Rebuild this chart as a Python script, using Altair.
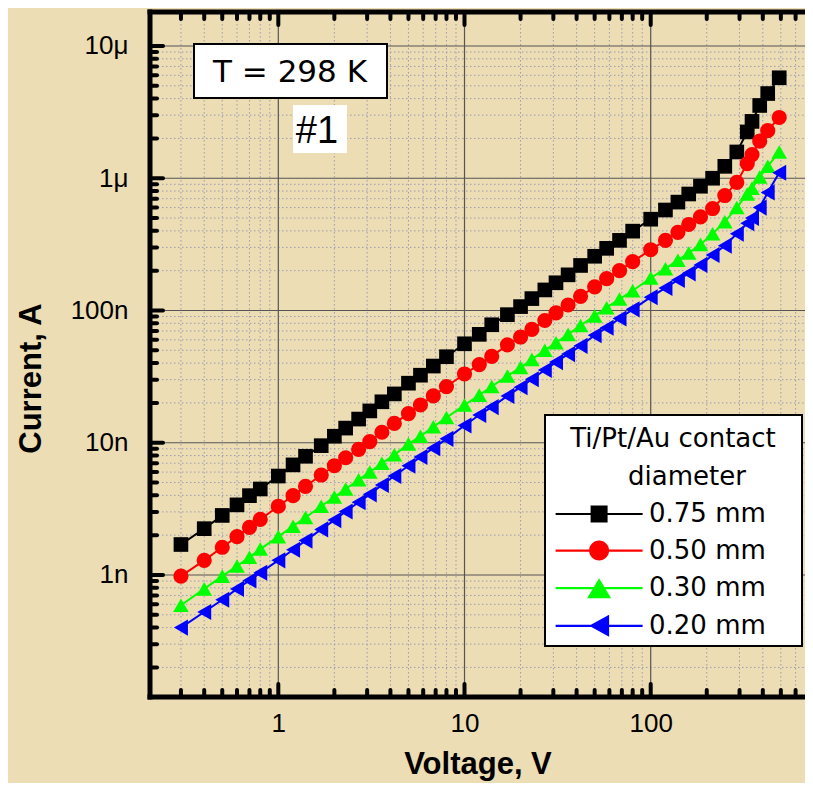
import altair as alt
import pandas as pd

# ---------------- data ----------------
series_names = ["0.75 mm", "0.50 mm", "0.30 mm", "0.20 mm"]
series_colors = ["#000000", "#ff0000", "#00ff00", "#0000ff"]
series_shapes = ["square", "circle", "triangle-up", "triangle-left"]
series_sizes = [215, 260, 390, 370]

voltage = [0.3, 0.4, 0.5, 0.6, 0.7, 0.8, 1.0, 1.2, 1.4, 1.7, 2.0, 2.3, 2.7, 3.1, 3.6,
           4.2, 5.0, 5.8, 6.8, 8.0, 10, 12, 14, 17, 20, 23, 27, 31, 36, 42, 50, 58, 68,
           80, 100, 120, 140, 160, 185, 215, 250, 290, 330, 350, 385, 425, 490]

current_075 = [1.70e-9, 2.24e-9, 2.82e-9, 3.39e-9, 3.98e-9, 4.47e-9, 5.6e-9, 6.8e-9, 7.9e-9,
               9.5e-9, 1.12e-8, 1.29e-8, 1.51e-8, 1.74e-8, 2.04e-8, 2.34e-8, 2.82e-8, 3.24e-8,
               3.80e-8, 4.47e-8, 5.6e-8, 6.6e-8, 7.8e-8, 9.3e-8, 1.07e-7, 1.23e-7, 1.43e-7,
               1.62e-7, 1.86e-7, 2.19e-7, 2.57e-7, 2.95e-7, 3.39e-7, 3.98e-7, 4.9e-7, 5.75e-7,
               6.6e-7, 7.6e-7, 8.7e-7, 1.0e-6, 1.23e-6, 1.58e-6, 2.24e-6, 2.69e-6, 3.55e-6,
               4.37e-6, 5.75e-6]
current_050 = [0.98e-9, 1.29e-9, 1.62e-9, 1.95e-9, 2.29e-9, 2.63e-9, 3.31e-9, 3.98e-9, 4.68e-9,
               5.7e-9, 6.7e-9, 7.7e-9, 8.9e-9, 1.02e-8, 1.20e-8, 1.40e-8, 1.66e-8, 1.93e-8,
               2.26e-8, 2.66e-8, 3.31e-8, 3.9e-8, 4.5e-8, 5.5e-8, 6.3e-8, 7.2e-8, 8.4e-8,
               9.6e-8, 1.10e-7, 1.28e-7, 1.51e-7, 1.74e-7, 2.0e-7, 2.34e-7, 2.88e-7, 3.39e-7,
               3.9e-7, 4.47e-7, 5.1e-7, 5.9e-7, 7.4e-7, 9.3e-7, 1.29e-6, 1.51e-6, 1.91e-6,
               2.29e-6, 2.88e-6]
current_030 = [5.9e-10, 7.85e-10, 9.8e-10, 1.17e-9, 1.36e-9, 1.57e-9, 1.95e-9, 2.34e-9, 2.72e-9,
               3.31e-9, 3.89e-9, 4.47e-9, 5.25e-9, 6.0e-9, 7.0e-9, 8.1e-9, 9.8e-9, 1.12e-8,
               1.32e-8, 1.55e-8, 1.93e-8, 2.29e-8, 2.66e-8, 3.2e-8, 3.7e-8, 4.27e-8, 5.0e-8,
               5.7e-8, 6.6e-8, 7.7e-8, 9.1e-8, 1.05e-7, 1.22e-7, 1.41e-7, 1.76e-7, 2.07e-7,
               2.4e-7, 2.72e-7, 3.16e-7, 3.8e-7, 4.68e-7, 6.0e-7, 7.6e-7, 8.4e-7, 1.02e-6,
               1.23e-6, 1.58e-6]
current_020 = [4.0e-10, 5.25e-10, 6.5e-10, 7.85e-10, 9.1e-10, 1.04e-9, 1.29e-9, 1.55e-9, 1.82e-9,
               2.21e-9, 2.6e-9, 3.02e-9, 3.55e-9, 4.07e-9, 4.79e-9, 5.6e-9, 6.7e-9, 7.8e-9,
               9.1e-9, 1.07e-8, 1.35e-8, 1.62e-8, 1.86e-8, 2.26e-8, 2.63e-8, 3.02e-8, 3.55e-8,
               4.07e-8, 4.68e-8, 5.4e-8, 6.5e-8, 7.4e-8, 8.7e-8, 1.02e-7, 1.26e-7, 1.48e-7,
               1.70e-7, 1.91e-7, 2.21e-7, 2.63e-7, 3.09e-7, 3.8e-7, 4.57e-7, 5.0e-7, 6.0e-7,
               7.8e-7, 1.1e-6]

x_major = [1, 10, 100]
x_major_labels = ["1", "10", "100"]
x_minor = [0.3, 0.4, 0.5, 0.6, 0.7, 0.8, 0.9,
           2, 3, 4, 5, 6, 7, 8, 9,
           20, 30, 40, 50, 60, 70, 80, 90,
           200, 300, 400, 500, 600]
y_major = [1e-9, 1e-8, 1e-7, 1e-6, 1e-5]
y_major_labels = ["1n", "10n", "100n", "1μ", "10μ"]
y_minor = [2e-10, 3e-10, 4e-10, 5e-10, 6e-10, 7e-10, 8e-10, 9e-10,
           2e-9, 3e-9, 4e-9, 5e-9, 6e-9, 7e-9, 8e-9, 9e-9,
           2e-8, 3e-8, 4e-8, 5e-8, 6e-8, 7e-8, 8e-8, 9e-8,
           2e-7, 3e-7, 4e-7, 5e-7, 6e-7, 7e-7, 8e-7, 9e-7,
           2e-6, 3e-6, 4e-6, 5e-6, 6e-6, 7e-6, 8e-6, 9e-6]

temp_label = ["T = 298 K"]
sample_label = ["#1"]
legend_title_1 = ["Ti/Pt/Au contact"]
legend_title_2 = ["diameter"]

# ---------------- build table ----------------
rows = []
for name, cur in zip(series_names, [current_075, current_050, current_030, current_020]):
    for v, i in zip(voltage, cur):
        rows.append({"series": name, "V": v, "I": i})
df = pd.DataFrame(rows)

W, H = 655, 685
SANS = "Liberation Sans, Arial, sans-serif"
WIDE = "DejaVu Sans, sans-serif"
BG = "#ECDDB5"

xscale = alt.Scale(type="log", domain=[0.2046, 674], nice=False)
yscale = alt.Scale(type="log", domain=[1.195e-10, 1.807e-5], nice=False)

x_label_expr = "[" + ",".join("'%s'" % s for s in x_major_labels) + "][round(log(datum.value)/LN10)]"
y_label_expr = "[" + ",".join("'%s'" % s for s in y_major_labels) + "][round(log(datum.value)/LN10)+9]"

x_axis = alt.Axis(values=x_major, labelExpr=x_label_expr, ticks=False, tickSize=0, domain=False,
                  grid=False, labelFont=SANS, labelFontSize=26, labelColor="black",
                  labelPadding=13, title="Voltage, V", titleFont=SANS, titleFontSize=31,
                  titleFontWeight="bold", titleColor="black", titleY=76,
                  titleBaseline="alphabetic")
y_axis = alt.Axis(values=y_major, labelExpr=y_label_expr, ticks=False, tickSize=0, domain=False,
                  grid=False, labelFont=SANS, labelFontSize=26, labelColor="black",
                  labelPadding=22, title="Current, A", titleFont=SANS, titleFontSize=31,
                  titleFontWeight="bold", titleColor="black", titleX=-110, titleY=366,
                  titleBaseline="alphabetic", titleAlign="center")


def X(field):
    return alt.X(field, type="quantitative", scale=xscale, axis=x_axis)


def Y(field):
    return alt.Y(field, type="quantitative", scale=yscale, axis=y_axis)


xmin_df = pd.DataFrame({"v": x_minor})
xmaj_df = pd.DataFrame({"v": x_major})
ymin_df = pd.DataFrame({"v": y_minor})
ymaj_df = pd.DataFrame({"v": y_major})

# grid
grid_minor_x = alt.Chart(xmin_df).mark_rule(stroke="#9c9cb0", strokeWidth=1, strokeDash=[1.5, 2.5]).encode(
    x=X("v"), y=alt.value(0), y2=alt.value(H))
grid_minor_y = alt.Chart(ymin_df).mark_rule(stroke="#9c9cb0", strokeWidth=1, strokeDash=[1.5, 2.5]).encode(
    y=Y("v"), x=alt.value(0), x2=alt.value(W))
grid_major_x = alt.Chart(xmaj_df).mark_rule(stroke="#555555", strokeWidth=1.2).encode(
    x=X("v"), y=alt.value(0), y2=alt.value(H))
grid_major_y = alt.Chart(ymaj_df).mark_rule(stroke="#555555", strokeWidth=1.2).encode(
    y=Y("v"), x=alt.value(0), x2=alt.value(W))

# annotation boxes
t_df = pd.DataFrame({"label": temp_label})
s_df = pd.DataFrame({"label": sample_label})
lt1_df = pd.DataFrame({"label": legend_title_1})
lt2_df = pd.DataFrame({"label": legend_title_2})

t_box = alt.Chart(t_df).mark_rect(fill="white", stroke="black", strokeWidth=2).encode(
    x=alt.value(44), x2=alt.value(237), y=alt.value(32), y2=alt.value(86))
t_text = alt.Chart(t_df).mark_text(font=WIDE, fontSize=31, align="center", baseline="alphabetic",
                                    color="black").encode(
    x=alt.value(140), y=alt.value(70), text="label:N")
s_box = alt.Chart(s_df).mark_rect(fill="white").encode(
    x=alt.value(143), x2=alt.value(197), y=alt.value(93), y2=alt.value(141))
s_text = alt.Chart(s_df).mark_text(font=SANS, fontSize=38, align="center", baseline="alphabetic",
                                    color="black").encode(
    x=alt.value(167), y=alt.value(131), text="label:N")
leg_box = alt.Chart(lt1_df).mark_rect(fill="white", stroke="black", strokeWidth=2).encode(
    x=alt.value(395), x2=alt.value(652), y=alt.value(403), y2=alt.value(634))
leg_t1 = alt.Chart(lt1_df).mark_text(font=WIDE, fontSize=26, align="center", baseline="alphabetic",
                                     color="black").encode(
    x=alt.value(523), y=alt.value(435), text="label:N")
leg_t2 = alt.Chart(lt2_df).mark_text(font=WIDE, fontSize=26, align="center", baseline="alphabetic",
                                     color="black").encode(
    x=alt.value(537), y=alt.value(473), text="label:N")

color_scale = alt.Scale(domain=series_names, range=series_colors)

lines = alt.Chart(df).mark_line(strokeWidth=2).encode(
    x=X("V"), y=Y("I"),
    color=alt.Color("series:N", scale=color_scale, legend=None))
points = alt.Chart(df).mark_point(filled=True, opacity=1).encode(
    x=X("V"), y=Y("I"),
    color=alt.Color("series:N", scale=color_scale, legend=None),
    shape=alt.Shape("series:N", scale=alt.Scale(domain=series_names, range=series_shapes), legend=None),
    size=alt.Size("series:N", scale=alt.Scale(domain=series_names, range=series_sizes), legend=None))

# frame (left, top, bottom)
frame_left = alt.Chart(t_df).mark_rule(stroke="black", strokeWidth=5).encode(
    x=alt.value(0), y=alt.value(-2.5), y2=alt.value(H + 2.5))
frame_top = alt.Chart(t_df).mark_rule(stroke="black", strokeWidth=5).encode(
    y=alt.value(0), x=alt.value(-2.5), x2=alt.value(W))
frame_bottom = alt.Chart(t_df).mark_rule(stroke="black", strokeWidth=5).encode(
    y=alt.value(H), x=alt.value(-2.5), x2=alt.value(W))

# inward ticks
tk = dict(stroke="black", strokeWidth=4, strokeCap="round")
ticks = [
    alt.Chart(xmaj_df).mark_rule(**tk).encode(x=X("v"), y=alt.value(H), y2=alt.value(H - 13)),
    alt.Chart(xmin_df).mark_rule(**tk).encode(x=X("v"), y=alt.value(H), y2=alt.value(H - 7)),
    alt.Chart(xmaj_df).mark_rule(**tk).encode(x=X("v"), y=alt.value(0), y2=alt.value(13)),
    alt.Chart(xmin_df).mark_rule(**tk).encode(x=X("v"), y=alt.value(0), y2=alt.value(7)),
    alt.Chart(ymaj_df).mark_rule(**tk).encode(y=Y("v"), x=alt.value(0), x2=alt.value(13)),
    alt.Chart(ymin_df).mark_rule(**tk).encode(y=Y("v"), x=alt.value(0), x2=alt.value(7)),
]

# legend symbols: filled line bar + marker as one custom path (all sub-paths clockwise)
U = 8.5
LINE_L, LINE_R, MC, LH = -11.4, 75.6, 32.1, 1.1


def f(v):
    return f"{v / U:.3f}"


line_path = f"M{f(LINE_L)},{f(-LH)}H{f(LINE_R)}V{f(LH)}H{f(LINE_L)}Z"
sq = 8.5
square_path = f"M{f(MC - sq)},{f(-sq)}H{f(MC + sq)}V{f(sq)}H{f(MC - sq)}Z"
r = 10.0
circle_path = (f"M{f(MC - r)},0A{f(r)},{f(r)} 0 1,1 {f(MC + r)},0"
               f"A{f(r)},{f(r)} 0 1,1 {f(MC - r)},0Z")
tw, th = 12.0, 10.0
tri_up = f"M{f(MC)},{f(-th)}L{f(MC + tw)},{f(th)}L{f(MC - tw)},{f(th)}Z"
lw, lh = 10.0, 11.0
tri_left = f"M{f(MC - lw)},0L{f(MC + lw)},{f(-lh)}L{f(MC + lw)},{f(lh)}Z"
legend_paths = [line_path + " " + p for p in [square_path, circle_path, tri_up, tri_left]]

leg = alt.Legend(orient="none", legendX=404, legendY=489, title=None, padding=0, rowPadding=6.6,
                 labelOffset=69, symbolSize=289, symbolStrokeWidth=2.5, symbolOpacity=1,
                 labelFont=WIDE, labelFontSize=26, labelColor="black", labelLimit=300)
leg_df = pd.DataFrame({"series": series_names})
legend_layer = alt.Chart(leg_df).mark_point(filled=True, opacity=1).encode(
    x=alt.value(-600), y=alt.value(-600),
    shape=alt.Shape("series:N", scale=alt.Scale(domain=series_names, range=legend_paths), legend=leg),
    fill=alt.Fill("series:N", scale=alt.Scale(domain=series_names, range=series_colors), legend=leg))

chart = alt.layer(
    grid_minor_x, grid_minor_y, grid_major_x, grid_major_y,
    t_box, t_text, s_box, s_text, leg_box, leg_t1, leg_t2,
    lines, points,
    frame_left, frame_top, frame_bottom, *ticks,
    legend_layer,
).resolve_scale(shape="independent", fill="independent").properties(
    width=W, height=H,
    autosize=alt.AutoSizeParams(type="none"),
    padding={"left": 142, "top": 4, "right": 0, "bottom": 86},
    background=BG,
).configure_view(stroke=None)

chart.save("out.html", embed_options={"renderer": "svg", "actions": False})
